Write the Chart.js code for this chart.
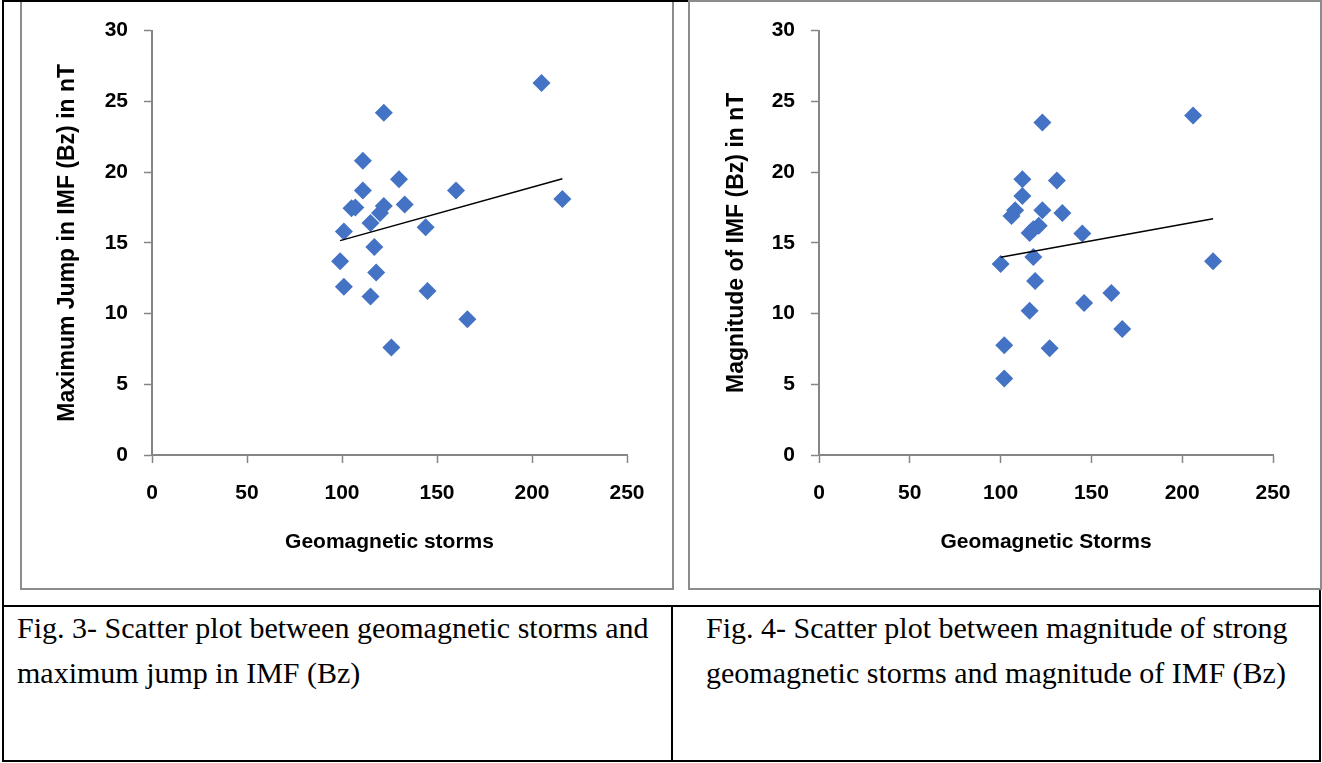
<!DOCTYPE html>
<html>
<head>
<meta charset="utf-8">
<script src="https://cdn.jsdelivr.net/npm/chart.js@4.4.1/dist/chart.umd.min.js"></script>
<style>
  html, body { margin:0; padding:0; background:#fff; }
  body { width:1322px; height:763px; position:relative; overflow:hidden; }
  .frame { position:absolute; border:2px solid #8c8c8c; box-sizing:border-box; }
  .box { position:absolute; }
  .line { position:absolute; background:#000; }
  .cap { position:absolute; font-family:"Liberation Serif","Times New Roman",serif; font-size:30px; line-height:45px; color:#000; white-space:nowrap; }
</style>
</head>
<body>
<div class="frame" style="left:20px; top:-1px; width:654px; height:591px;"></div>
<div class="frame" style="left:688px; top:0px; width:634px; height:590px;"></div>
<div class="box" style="left:22px; top:2px; width:649px; height:585px;"><canvas id="fig3"></canvas></div>
<div class="box" style="left:690px; top:2px; width:629px; height:585px;"><canvas id="fig4"></canvas></div>

<div class="line" style="left:2px; top:0; width:686px; height:2px;"></div>
<div class="line" style="left:2px; top:0; width:2px; height:762px;"></div>
<div class="line" style="left:1319px; top:590px; width:2px; height:172px;"></div>
<div class="line" style="left:2px; top:760px; width:1319px; height:2px;"></div>
<div class="line" style="left:2px; top:605px; width:1319px; height:2px;"></div>
<div class="line" style="left:671px; top:605px; width:2px; height:157px;"></div>

<div class="cap" style="left:17px; top:605px;">Fig. 3- Scatter plot between geomagnetic storms and<br>maximum jump in IMF (Bz)</div>
<div class="cap" style="left:706px; top:605px;">Fig. 4- Scatter plot between magnitude of strong<br>geomagnetic storms and magnitude of IMF (Bz)</div>

<script>
// Fig. 3 : storm strength vs maximum jump in IMF Bz
const storms3 = [205, 122, 111, 130, 111, 160, 216, 133, 105, 107, 122, 120, 115, 144, 101, 117, 99, 118, 101, 115, 145, 166, 126];
const jump3   = [26.3, 24.2, 20.8, 19.5, 18.7, 18.7, 18.1, 17.7, 17.45, 17.5, 17.6, 17.1, 16.4, 16.1, 15.8, 14.7, 13.7, 12.9, 11.9, 11.2, 11.6, 9.6, 7.6];

// Fig. 4 : storm strength vs magnitude of IMF Bz
const storms4 = [206, 123, 112, 131, 112, 108, 106, 123, 134, 121, 116, 118, 145, 100, 118, 217, 119, 161, 146, 116, 167, 102, 127, 102];
const mag4    = [24.0, 23.5, 19.5, 19.4, 18.3, 17.3, 16.9, 17.3, 17.1, 16.2, 15.7, 15.95, 15.65, 13.5, 14.0, 13.7, 12.3, 11.45, 10.75, 10.2, 8.9, 7.75, 7.55, 5.4];

const xTicks = [0, 50, 100, 150, 200, 250];
const yTicks = [0, 5, 10, 15, 20, 25, 30];

const toPoints = (xs, ys) => xs.map((x, i) => ({x: x, y: ys[i]}));

// least squares trend line over the data range
const trend = (xs, ys) => {
  const n = xs.length;
  const mx = xs.reduce((a, b) => a + b, 0) / n;
  const my = ys.reduce((a, b) => a + b, 0) / n;
  let sxy = 0, sxx = 0;
  xs.forEach((x, i) => { sxy += (x - mx) * (ys[i] - my); sxx += (x - mx) * (x - mx); });
  const b = sxy / sxx, a = my - b * mx;
  const lo = Math.min(...xs), hi = Math.max(...xs);
  return [{x: lo, y: a + b * lo}, {x: hi, y: a + b * hi}];
};

const tickFont = {family: '"Liberation Sans", Arial, sans-serif', size: 21, weight: 'bold'};
const yTitleFont = {family: '"Liberation Sans", Arial, sans-serif', size: 23, weight: 'bold'};

const makeChart = (id, xs, ys, yTitle, xTitle, yWidth, rightPad, yTitlePad) => {
  new Chart(document.getElementById(id), {
    type: 'scatter',
    data: {
      datasets: [{
        type: 'line',
        data: trend(xs, ys),
        borderColor: '#000',
        borderWidth: 1.5,
        pointRadius: 0,
        fill: false,
        order: 0
      }, {
        data: toPoints(xs, ys),
        pointStyle: 'rectRot',
        pointRadius: 9,
        pointHoverRadius: 9,
        backgroundColor: '#4472C4',
        borderWidth: 0,
        order: 1
      }]
    },
    options: {
      responsive: true,
      maintainAspectRatio: false,
      animation: false,
      events: [],
      layout: { padding: {top: 26, right: rightPad, bottom: 32, left: 0} },
      plugins: { legend: {display: false}, tooltip: {enabled: false} },
      scales: {
        x: {
          type: 'linear',
          min: 0, max: 250,
          afterBuildTicks: (s) => { s.ticks = xTicks.map(v => ({value: v})); },
          afterFit: (s) => { s.height = 100; },
          grid: { drawOnChartArea: false, drawTicks: true, tickLength: 8, color: '#868686', tickWidth: 1.5 },
          border: { color: '#868686', width: 2 },
          ticks: { color: '#000', font: tickFont, padding: 18, maxRotation: 0 },
          title: { display: true, text: xTitle, color: '#000', font: tickFont, padding: {top: 0, bottom: 0} }
        },
        y: {
          type: 'linear',
          min: 0, max: 30,
          afterBuildTicks: (s) => { s.ticks = yTicks.map(v => ({value: v})); },
          afterFit: (s) => { s.width = yWidth; },
          grid: { drawOnChartArea: false, drawTicks: true, tickLength: 8, color: '#868686', tickWidth: 1.5 },
          border: { color: '#868686', width: 2 },
          ticks: { color: '#000', font: tickFont, padding: 16 },
          title: { display: true, text: yTitle, color: '#000', font: yTitleFont, padding: {top: yTitlePad, bottom: 0} }
        }
      }
    }
  });
};

makeChart('fig3', storms3, jump3, 'Maximum Jump in IMF (Bz) in nT', 'Geomagnetic storms', 130, 44, 32);
makeChart('fig4', storms4, mag4, 'Magnitude of IMF (Bz) in nT', 'Geomagnetic Storms', 129, 46, 33);
</script>
</body>
</html>
